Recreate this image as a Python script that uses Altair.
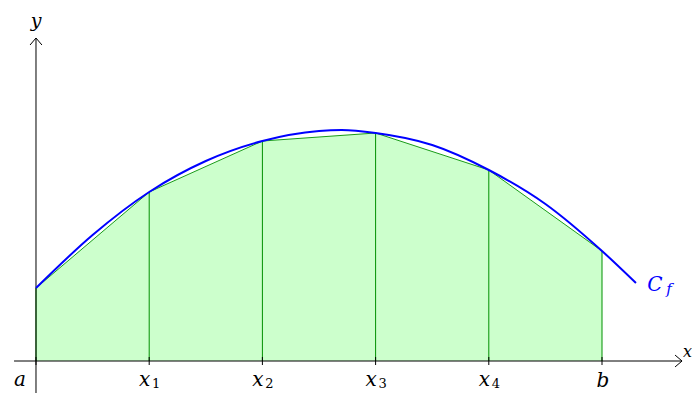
import altair as alt
import pandas as pd

# Subdivision nodes (a, x1..x4, b) and f values at the nodes
node_t = [0, 1, 2, 3, 4, 5]
node_f = [73, 169, 220, 228, 191, 110]
node_names = ["a", "x", "x", "x", "x", "b"]
node_subs = ["", "1", "2", "3", "4", ""]

# Curve C_f samples
curve_t = [0, 0.5, 1, 1.5, 2, 2.5, 2.7, 3, 3.5, 4, 4.5, 5, 5.3]
curve_f = [73, 126, 169, 200, 220, 230, 231, 228, 216, 191, 157, 110, 78]

# Axis extents (data units)
x_axis_t = [-0.194, 5.707]
y_axis_f = [-40, 323]
label_row = -25  # baseline of the node labels

GREEN = "#009000"
FILL = "#ccffcc"
BLUE = "#0000ff"
FONT = "DejaVu Serif"

xs = alt.Scale(domain=[-0.2473, 5.795], nice=False, zero=False)
ys = alt.Scale(domain=[-32, 353], nice=False, zero=False)

nodes = pd.DataFrame({"t": node_t, "f": node_f, "name": node_names, "sub": node_subs,
                      "zero": [0] * len(node_t), "row": [label_row] * len(node_t)})
curve = pd.DataFrame({"t": curve_t, "f": curve_f})

X = alt.X("t:Q", scale=xs, axis=None)
Y = alt.Y("f:Q", scale=ys, axis=None)

area = alt.Chart(nodes).mark_area(color=FILL, opacity=1, interpolate="linear").encode(
    x=X, y=Y, y2="zero:Q")
top = alt.Chart(nodes).mark_line(color=GREEN, strokeWidth=0.9).encode(x=X, y=Y)
verts = alt.Chart(nodes).mark_rule(color=GREEN, strokeWidth=1).encode(x=X, y=Y, y2="zero:Q")

xaxis_df = pd.DataFrame({"t": x_axis_t, "f": [0, 0]})
yaxis_df = pd.DataFrame({"t": [0, 0], "f": y_axis_f})
xaxis = alt.Chart(xaxis_df).mark_line(color="black", strokeWidth=1).encode(x=X, y=Y)
yaxis = alt.Chart(yaxis_df).mark_line(color="black", strokeWidth=1).encode(x=X, y=Y)

xarrow = alt.Chart(pd.DataFrame({"t": [x_axis_t[1]], "f": [0]})).mark_point(
    shape="M-1,-0.85L0,0L-1,0.85", size=196, filled=False, color="black",
    strokeWidth=1, opacity=1).encode(x=X, y=Y)
yarrow = alt.Chart(pd.DataFrame({"t": [0], "f": [y_axis_f[1]]})).mark_point(
    shape="M-0.85,1L0,0L0.85,1", size=196, filled=False, color="black",
    strokeWidth=1, opacity=1).encode(x=X, y=Y)

ticks = alt.Chart(nodes).mark_rule(color="black", strokeWidth=1).encode(
    x=X, y=alt.Y("tlo:Q", scale=ys, axis=None), y2="thi:Q").transform_calculate(
    tlo="-4", thi="4")

blue = alt.Chart(curve).mark_line(color=BLUE, strokeWidth=2, interpolate="monotone").encode(x=X, y=Y)

txt = dict(font=FONT, fontStyle="italic", fontSize=20, baseline="alphabetic", align="center")
RY = alt.Y("row:Q", scale=ys, axis=None)
lab_a = alt.Chart(nodes).transform_filter("datum.name == 'a'").mark_text(dx=-16, **txt).encode(
    x=X, y=RY, text="name:N")
lab_x = alt.Chart(nodes).transform_filter("datum.name == 'x'").mark_text(dx=-4.5, **txt).encode(
    x=X, y=RY, text="name:N")
lab_sub = alt.Chart(nodes).transform_filter("datum.sub != ''").mark_text(
    dx=7, dy=2, font=FONT, fontSize=13, baseline="alphabetic", align="center").encode(
    x=X, y=RY, text="sub:N")
lab_b = alt.Chart(nodes).transform_filter("datum.name == 'b'").mark_text(dx=1, dy=1, **txt).encode(
    x=X, y=RY, text="name:N")

end = pd.DataFrame({"t": [curve_t[-1]], "f": [curve_f[-1]], "C": ["C"], "s": ["f"]})
lab_C = alt.Chart(end).mark_text(dx=19, dy=8, color=BLUE, **txt).encode(x=X, y=Y, text="C:N")
lab_f = alt.Chart(end).mark_text(dx=33, dy=11, color=BLUE, font=FONT, fontStyle="italic",
                                 fontSize=15, baseline="alphabetic", align="center").encode(
    x=X, y=Y, text="s:N")

lab_y = alt.Chart(pd.DataFrame({"t": [0], "f": [y_axis_f[1]], "l": ["y"]})).mark_text(
    dy=-11, font=FONT, fontStyle="italic", fontSize=19, baseline="alphabetic",
    align="center").encode(x=X, y=Y, text="l:N")
lab_xx = alt.Chart(pd.DataFrame({"t": [x_axis_t[1]], "f": [0], "l": ["x"]})).mark_text(
    dx=1, dy=-4, font=FONT, fontStyle="italic", fontSize=16, baseline="alphabetic",
    align="left").encode(x=X, y=Y, text="l:N")

chart = alt.layer(area, verts, top, xaxis, yaxis, xarrow, yarrow, ticks, blue,
                  lab_a, lab_x, lab_sub, lab_b, lab_C, lab_f, lab_y, lab_xx).properties(
    width=684, height=385, padding=0,
    autosize=alt.AutoSizeParams(type="none")).configure_view(stroke=None)

chart.save("out.html", embed_options={"renderer": "svg", "actions": False})
